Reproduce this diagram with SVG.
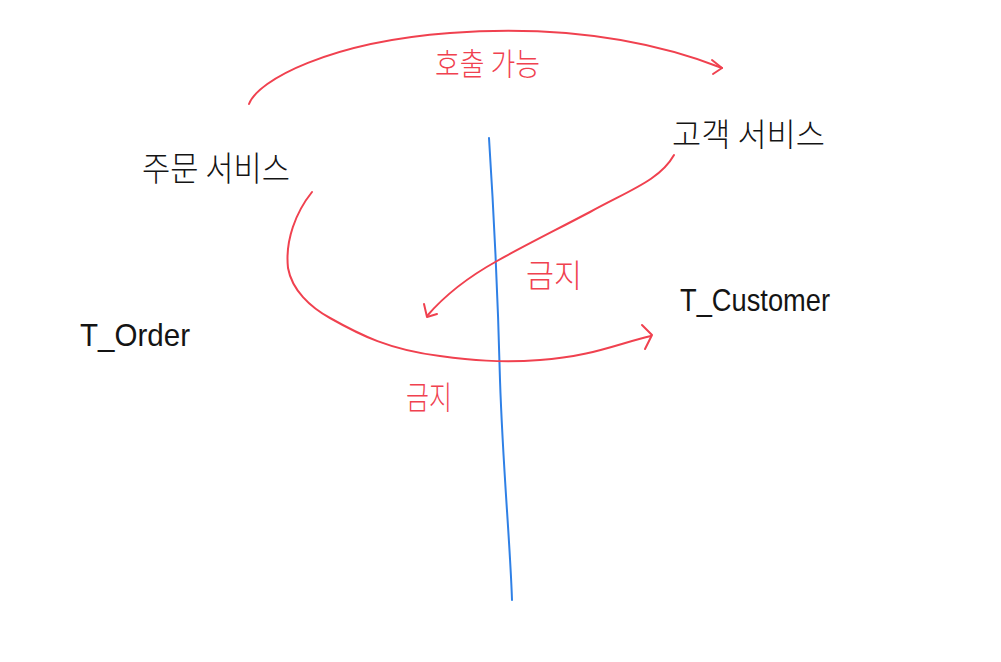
<svg xmlns="http://www.w3.org/2000/svg" width="1001" height="662" viewBox="0 0 1001 662">
<style>
.k{font-family:"Noto Sans CJK KR","Noto Sans",sans-serif;font-weight:300}
.e{font-family:"Liberation Sans","DejaVu Sans",sans-serif;font-weight:normal}
.blk{fill:#141414}
.red{fill:#f0414f}
.rl{fill:none;stroke:#f0414f;stroke-width:2;stroke-linecap:round;stroke-linejoin:round}
</style>
<rect width="1001" height="662" fill="#ffffff"/>
<g id="divider">
<path d="M489,138 C493,200 498,300 500,380 C503,470 510,540 512,600" fill="none" stroke="#2f80e6" stroke-width="2" stroke-linecap="round"/>
</g>
<g id="order-service"><text class="k blk" x="142" y="181" font-size="34" textLength="148" lengthAdjust="spacingAndGlyphs">주문 서비스</text></g>
<g id="customer-service"><text class="k blk" x="672" y="146" font-size="32" textLength="153" lengthAdjust="spacingAndGlyphs">고객 서비스</text></g>
<g id="t-order"><text class="e blk" x="80" y="346" font-size="32" textLength="110" lengthAdjust="spacingAndGlyphs">T_Order</text></g>
<g id="t-customer"><text class="e blk" x="680" y="311" font-size="32" textLength="150" lengthAdjust="spacingAndGlyphs">T_Customer</text></g>
<g id="connectors">
<path class="rl" d="M249,104 C258,80 330,42 450,33 C560,25 650,40 722,68"/>
<path class="rl" d="M712,60 L722,68 L713,74"/>
<path class="rl" d="M312,192 C296,212 285,240 288,268 C292,290 310,307 330,318 C360,335 390,350 440,356 C470,360 500,363 540,360 C590,357 620,343 651,336"/>
<path class="rl" d="M642,325 L652,335 L645,349"/>
<path class="rl" d="M674,155 C660,180 630,190 590,212 C550,233 520,248 497,261 C470,276 445,295 427,316"/>
<path class="rl" d="M424,304 L427,317 L437,314"/>
</g>
<g id="labels">
<text class="k red" x="435" y="75" font-size="31" textLength="105" lengthAdjust="spacingAndGlyphs">호출 가능</text>
<text class="k red" x="526" y="287" font-size="32" textLength="56" lengthAdjust="spacingAndGlyphs">금지</text>
<text class="k red" x="406" y="409" font-size="32" textLength="46" lengthAdjust="spacingAndGlyphs">금지</text>
</g>
</svg>
